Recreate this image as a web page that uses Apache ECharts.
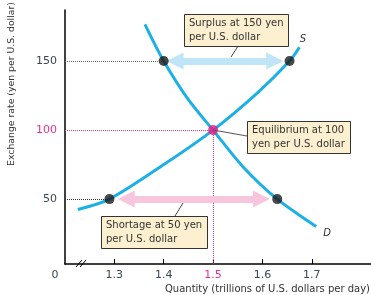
<!DOCTYPE html>
<html>
<head>
<meta charset="utf-8">
<script src="https://cdn.jsdelivr.net/npm/echarts@6/dist/echarts.min.js"></script>
<style>
  html, body { margin: 0; padding: 0; background: #fff; }
  #chart { width: 371px; height: 295px; }
</style>
</head>
<body>
<div id="chart"></div>
<script>
// demand curve D (quantity, yen per dollar)
var demandQ = [1.362, 1.40, 1.45, 1.50, 1.56, 1.63, 1.709];
var demandR = [176.6, 150, 122, 100, 73.7, 50, 30.2];
// supply curve S
var supplyQ = [1.226, 1.29, 1.40, 1.50, 1.59, 1.655, 1.675];
var supplyR = [42.5, 50, 75, 100, 127, 150, 160];
// marked points
var blackQ = [1.40, 1.655, 1.29, 1.63];
var blackR = [150, 150, 50, 50];
var eqQ = 1.5, eqR = 100;
// arrows: surplus at 150, shortage at 50
var surplusArrow = [1.423, 1.625];
var shortageArrow = [1.324, 1.598];
var xTicks = [1.3, 1.4, 1.5, 1.6, 1.7];
var yTicks = [50, 100, 150];

var font = 'DejaVu Sans';
var ink = '#333';
var pink = '#e8318f';
var curveColor = '#1cb0e6';

function zip(a, b) {
  var out = [];
  for (var i = 0; i < a.length; i++) out.push([a[i], b[i]]);
  return out;
}

var myChart = echarts.init(document.getElementById('chart'));

var option = {
  animation: false,
  grid: { left: 65, right: 0, top: 10, bottom: 31 },
  xAxis: {
    type: 'value', min: 1.2, max: 1.82,
    splitLine: { show: false },
    axisLine: { lineStyle: { color: '#000', width: 1.5 } },
    axisTick: { customValues: xTicks, inside: true, length: 5, lineStyle: { color: '#000' } },
    axisLabel: {
      customValues: xTicks, margin: 6,
      fontFamily: font, fontSize: 11, color: '#3b4656',
      formatter: function (v) { return v === 1.5 ? '{p|1.5}' : v.toFixed(1); },
      rich: { p: { color: pink, fontFamily: font, fontSize: 11 } }
    }
  },
  yAxis: {
    type: 'value', min: 3, max: 187,
    splitLine: { show: false },
    axisLine: { show: true, lineStyle: { color: '#000', width: 1.5 } },
    axisTick: { show: false },
    axisLabel: {
      customValues: yTicks, margin: 8,
      fontFamily: font, fontSize: 11, color: '#3b4656',
      formatter: function (v) { return v === 100 ? '{p|100}' : String(v); },
      rich: { p: { color: pink, fontFamily: font, fontSize: 11 } }
    }
  },
  series: [
    {
      type: 'line', data: zip(demandQ, demandR), smooth: 0.3,
      showSymbol: false, lineStyle: { color: curveColor, width: 3 }, z: 3,
      markLine: {
        silent: true, symbol: 'none', label: { show: false },
        data: [
          [{ coord: [1.2, 150], lineStyle: { color: '#666', type: 'dotted', width: 1 } }, { coord: [1.40, 150] }],
          [{ coord: [1.2, 100], lineStyle: { color: pink, type: 'dotted', width: 1 } }, { coord: [eqQ, 100] }],
          [{ coord: [eqQ, 3], lineStyle: { color: pink, type: 'dotted', width: 1 } }, { coord: [eqQ, eqR] }],
          [{ coord: [1.2, 50], lineStyle: { color: '#333', type: 'dotted', width: 1 } }, { coord: [1.29, 50] }]
        ]
      }
    },
    {
      type: 'line', data: zip(supplyQ, supplyR), smooth: 0.3,
      showSymbol: false, lineStyle: { color: curveColor, width: 3 }, z: 3
    },
    {
      type: 'scatter', data: [], z: 2,
      markLine: {
        silent: true, symbol: ['triangle', 'triangle'], symbolSize: [17, 17],
        label: { show: false },
        data: [
          [{ coord: [surplusArrow[0], 150], lineStyle: { color: '#bfe5f7', width: 7, type: 'solid' }, itemStyle: { color: '#bfe5f7' } },
           { coord: [surplusArrow[1], 150] }],
          [{ coord: [shortageArrow[0], 50], lineStyle: { color: '#f8c6dc', width: 7, type: 'solid' }, itemStyle: { color: '#f8c6dc' } },
           { coord: [shortageArrow[1], 50] }]
        ]
      }
    },
    {
      type: 'scatter', data: zip(blackQ, blackR), symbolSize: 10,
      itemStyle: { color: '#1a1a1a' }, z: 5
    },
    {
      type: 'scatter', data: [[eqQ, eqR]], symbolSize: 10,
      itemStyle: { color: '#ea1a80' }, z: 5
    }
  ],
  graphic: [
    // axis titles
    { type: 'text', x: 12, y: 84, rotation: Math.PI / 2, z: 10,
      style: { text: 'Exchange rate (yen per U.S. dollar)', font: '9.3px "DejaVu Sans"', fill: ink, align: 'center', verticalAlign: 'middle' } },
    { type: 'text', x: 370, y: 289, z: 10,
      style: { text: 'Quantity (trillions of U.S. dollars per day)', font: '10px "DejaVu Sans"', fill: ink, align: 'right', verticalAlign: 'middle' } },
    { type: 'text', x: 55, y: 275, z: 10,
      style: { text: '0', font: '11px "DejaVu Sans"', fill: '#3b4656', align: 'center', verticalAlign: 'middle' } },
    // axis break
    { type: 'line', z: 10, shape: { x1: 76, y1: 267, x2: 82, y2: 260 }, style: { stroke: '#000', lineWidth: 1 } },
    { type: 'line', z: 10, shape: { x1: 80, y1: 267, x2: 86, y2: 260 }, style: { stroke: '#000', lineWidth: 1 } },
    // curve names
    { type: 'text', x: 303, y: 39, z: 10,
      style: { text: 'S', font: 'italic 10px "DejaVu Sans"', fill: ink, align: 'center', verticalAlign: 'middle' } },
    { type: 'text', x: 327, y: 233, z: 10,
      style: { text: 'D', font: 'italic 10px "DejaVu Sans"', fill: ink, align: 'center', verticalAlign: 'middle' } },
    // leader lines
    { type: 'line', z: 9, shape: { x1: 238, y1: 46, x2: 231, y2: 57 }, style: { stroke: '#444', lineWidth: 1 } },
    { type: 'line', z: 9, shape: { x1: 213, y1: 130, x2: 247, y2: 136 }, style: { stroke: '#555', lineWidth: 1 } },
    { type: 'line', z: 9, shape: { x1: 183, y1: 203, x2: 175, y2: 216 }, style: { stroke: '#444', lineWidth: 1 } },
    // boxes
    { type: 'rect', z: 10, shape: { x: 184.5, y: 14.5, width: 104, height: 32 }, style: { fill: '#fdf0d0', stroke: '#333', lineWidth: 1 } },
    { type: 'text', x: 189, y: 30.5, z: 11,
      style: { text: 'Surplus at 150 yen\nper U.S. dollar', font: '10px "DejaVu Sans"', lineHeight: 14, fill: ink, verticalAlign: 'middle' } },
    { type: 'rect', z: 10, shape: { x: 247.5, y: 121.5, width: 103, height: 32 }, style: { fill: '#fdf0d0', stroke: '#333', lineWidth: 1 } },
    { type: 'text', x: 252, y: 137.5, z: 11,
      style: { text: 'Equilibrium at 100\nyen per U.S. dollar', font: '10px "DejaVu Sans"', lineHeight: 14, fill: ink, verticalAlign: 'middle' } },
    { type: 'rect', z: 10, shape: { x: 101.5, y: 216.5, width: 106, height: 32 }, style: { fill: '#fdf0d0', stroke: '#333', lineWidth: 1 } },
    { type: 'text', x: 106, y: 232.5, z: 11,
      style: { text: 'Shortage at 50 yen\nper U.S. dollar', font: '10px "DejaVu Sans"', lineHeight: 14, fill: ink, verticalAlign: 'middle' } }
  ]
};

myChart.setOption(option);
</script>
</body>
</html>
